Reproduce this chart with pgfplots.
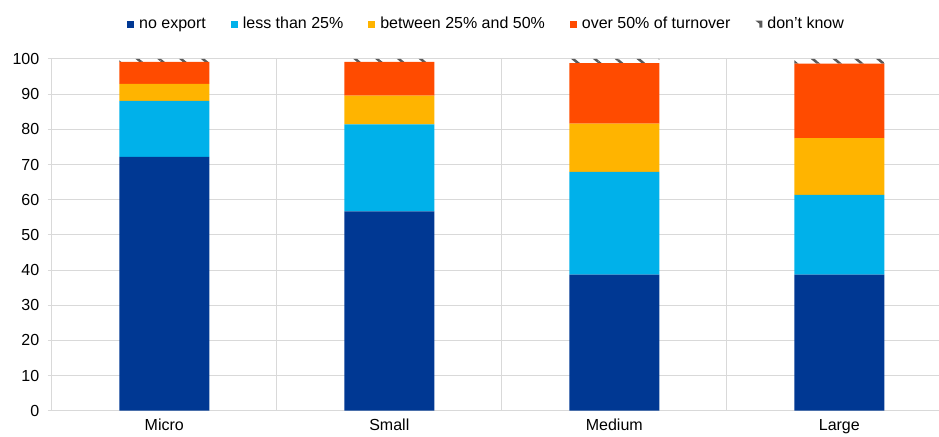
\documentclass[border=0pt]{standalone}
\usepackage{fontspec}
\setmainfont{Liberation Sans}
\usepackage{pgfplots}
\pgfplotsset{compat=1.18}
\usetikzlibrary{patterns.meta}
\definecolor{cNo}{RGB}{0,56,147}
\definecolor{cLess}{RGB}{0,177,234}
\definecolor{cBetw}{RGB}{255,180,0}
\definecolor{cOver}{RGB}{255,75,0}
\definecolor{cGrid}{RGB}{217,217,217}
\definecolor{cDk}{RGB}{89,89,89}
\begin{document}
\fontsize{16bp}{19bp}\selectfont
\begin{tikzpicture}
\begin{axis}[
  scale only axis, width=887.2bp, height=351.7bp,
  xmin=-0.5, xmax=3.443, ymin=0, ymax=100,
  enlargelimits=false,
  ybar stacked, bar width=90bp,
  xtick={0,1,2,3}, xticklabels={Micro,Small,Medium,Large},
  x tick style={draw=none},
  minor xtick={0.5,1.5,2.5},
  xminorgrids=true,
  ytick={0,10,...,100}, ymajorgrids=true,
  grid style={cGrid, line width=1bp},
  minor grid style={cGrid, line width=1bp},
  axis lines*=left,
  axis line style={cGrid, line width=1bp},
  y tick style={cGrid, line width=1bp},
  tick align=outside, major tick length=4bp,
  tick label style={font=\fontsize{16bp}{19bp}\selectfont, text=black},
  yticklabel style={xshift=-3bp},
  xticklabel style={yshift=1bp},
  /pgf/number format/assume math mode=true,
  legend style={at={(0.490,1.099)}, anchor=center, draw=none, fill=none,
    legend columns=-1, font=\fontsize{16bp}{19bp}\selectfont,
    /tikz/every odd column/.append style={column sep=3bp},
    /tikz/every even column/.append style={column sep=23bp},
    inner sep=0pt},
  legend cell align=left,
  legend image code/.code={\fill[#1] (0bp,-3.5bp) rectangle (7bp,3.5bp);},
]
\addplot[fill=cNo, draw=none] coordinates {(0,72.2) (1,56.7) (2,38.7) (3,38.7)};
\addplot[fill=cLess, draw=none] coordinates {(0,15.9) (1,24.7) (2,29.2) (3,22.7)};
\addplot[fill=cBetw, draw=none] coordinates {(0,4.8) (1,8.2) (2,13.7) (3,16.1)};
\addplot[fill=cOver, draw=none] coordinates {(0,6.3) (1,9.6) (2,17.2) (3,21.2)};
\addplot[draw=none, pattern={Lines[angle=-40,distance=14bp,line width=2.5bp]}, pattern color=cDk,
  legend image code/.code={\fill[cDk] (0bp,3.5bp) -- (7bp,3.5bp) -- (7bp,-3.5bp) -- (4bp,-3.5bp) -- (4bp,0.5bp) -- cycle;}]
  coordinates {(0,0.8) (1,0.8) (2,1.2) (3,1.3)};
\legend{no export, less than 25\%, between 25\% and 50\%, over 50\% of turnover, don't know}
\end{axis}
\pgfresetboundingbox
\path (-51.8bp,-26.3bp) rectangle (887.2bp,410.7bp);
\end{tikzpicture}
\end{document}
